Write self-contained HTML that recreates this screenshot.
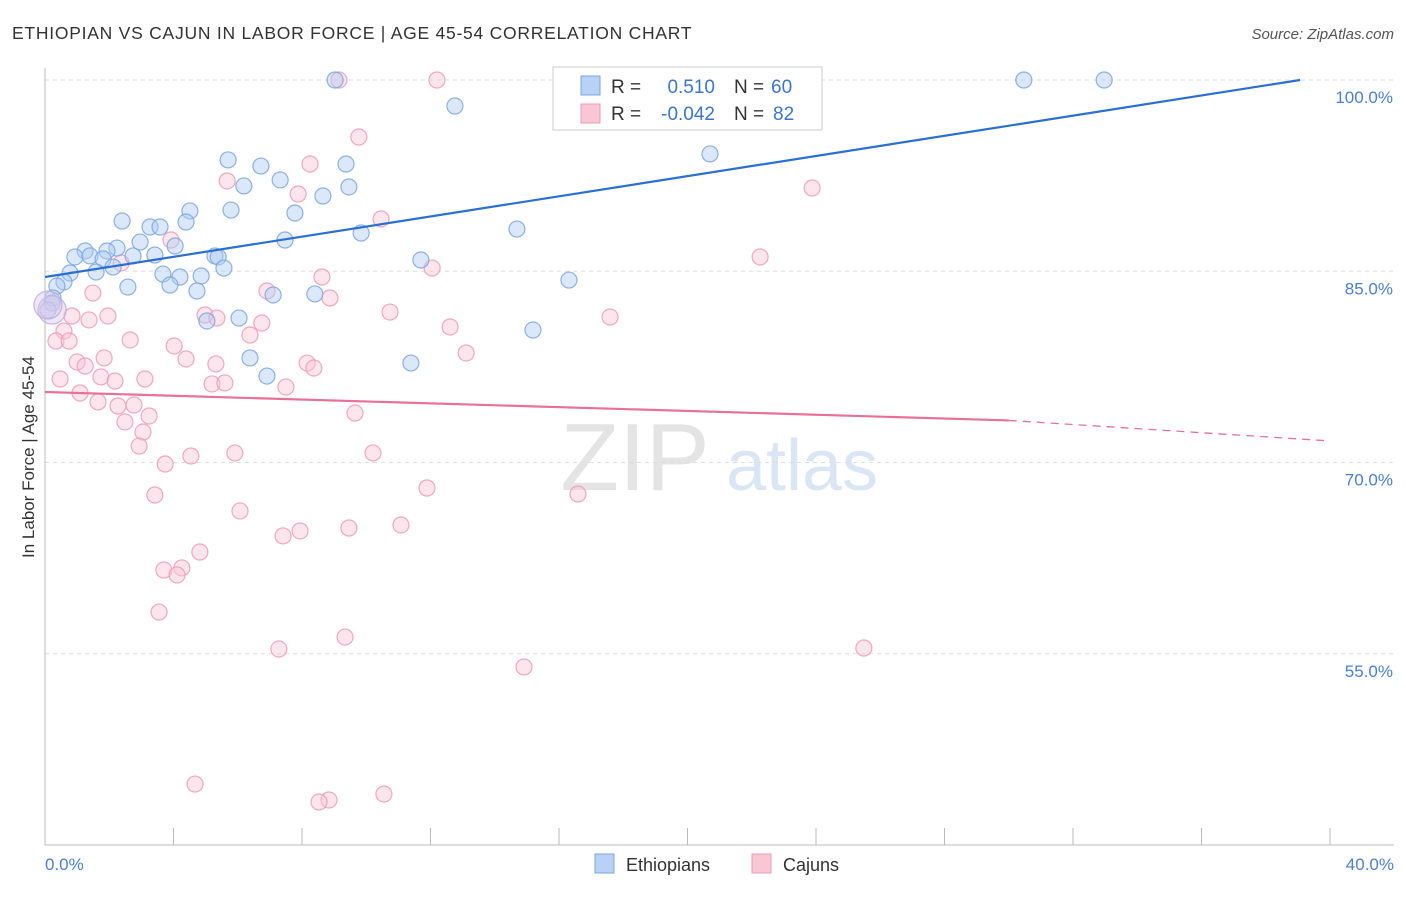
<!DOCTYPE html>
<html><head><meta charset="utf-8"><style>
body{margin:0;background:#fff;font-family:"Liberation Sans",sans-serif;}
svg text{font-family:"Liberation Sans",sans-serif;}
</style></head><body>
<svg id="chart" width="1406" height="892">
<text x="12" y="39" font-size="17.5" fill="#333" letter-spacing="0.75">ETHIOPIAN VS CAJUN IN LABOR FORCE | AGE 45-54 CORRELATION CHART</text>
<text x="1394" y="39" font-size="15" fill="#555" font-style="italic" text-anchor="end">Source: ZipAtlas.com</text>
<g>
<text x="635" y="490" font-size="96" fill="#e4e4e4" text-anchor="middle" font-family="Liberation Serif,serif">ZIP</text>
<text x="802" y="490" font-size="72" fill="#dbe6f5" text-anchor="middle">atlas</text>
</g>
<g id="grid"></g><g id="axes"></g><g id="marks"></g><g id="lines"></g>
<text transform="translate(34,457) rotate(-90)" font-size="17" fill="#333" text-anchor="middle">In Labor Force | Age 45-54</text>
<text x="45" y="870" font-size="17" fill="#4a7fd4">0.0%</text>
<text x="1394" y="870" font-size="17" fill="#4a7fd4" text-anchor="end">40.0%</text>
<g>
<rect x="553" y="67" width="269" height="63" fill="#fff" stroke="#ccc"/>
<rect x="581" y="76" width="19" height="19" fill="#b8d2f5" stroke="#7aa5e0"/>
<rect x="581" y="104" width="19" height="19" fill="#f9c6d6" stroke="#f09ab5"/>
<g font-size="19">
<text x="611" y="93" fill="#333">R =</text><text x="715" y="93" fill="#3a75d0" text-anchor="end">0.510</text>
<text x="734" y="93" fill="#333">N =</text><text x="771" y="93" fill="#3a75d0">60</text></g>
<g font-size="19">
<text x="611" y="120" fill="#333">R =</text><text x="715" y="120" fill="#3a75d0" text-anchor="end">-0.042</text>
<text x="734" y="120" fill="#333">N =</text><text x="773" y="120" fill="#3a75d0">82</text></g>
</g>
<g>
<rect x="595" y="854" width="19" height="19" fill="#b8d2f5" stroke="#7aa5e0"/>
<text x="626" y="871" font-size="18" fill="#333">Ethiopians</text>
<rect x="752" y="854" width="19" height="19" fill="#f9c6d6" stroke="#f09ab5"/>
<text x="783" y="871" font-size="18" fill="#333">Cajuns</text>
</g>
</svg>
<script>
const yTicks=[100,85,70,55];
const yTickLabels=["100.0%","85.0%","70.0%","55.0%"];
const xTicks=[0,4,8,12,16,20,24,28,32,36,40];
const ethX=[9.03,30.47,32.97,12.76,20.70,5.70,6.72,9.37,7.32,6.19,9.46,8.65,4.51,5.79,7.78,2.40,4.39,3.27,3.58,14.69,9.84,7.47,2.96,4.05,1.25,2.24,1.93,0.93,1.40,1.81,2.74,3.42,5.29,5.39,11.70,5.57,2.12,1.59,0.78,3.67,4.20,4.86,0.59,0.37,2.58,3.89,4.73,16.31,7.10,8.40,0.25,0.22,0.09,6.04,5.04,15.19,6.38,11.39,6.91];
const ethY=[100,100,100,97.96,94.20,93.73,93.25,93.41,92.16,91.69,91.61,90.90,89.73,89.80,89.57,88.94,88.86,88.47,88.47,88.31,88.00,87.45,87.29,86.98,86.59,86.82,86.59,86.12,86.20,85.96,86.20,86.27,86.20,86.12,85.88,85.25,85.33,84.94,84.86,84.78,84.55,84.63,84.16,83.84,83.76,83.92,83.45,84.31,83.14,83.22,82.90,82.51,81.96,81.33,81.10,80.39,78.20,77.80,76.78];
const cajX=[9.15,12.20,9.77,8.25,5.67,7.88,23.88,10.46,3.92,22.26,12.05,2.37,8.62,1.49,6.91,8.87,10.74,1.96,0.84,1.37,4.98,5.35,6.75,17.59,12.61,6.38,0.59,2.65,0.34,0.75,4.02,13.11,4.39,1.84,1.00,1.25,5.32,8.16,8.37,0.47,1.74,2.18,3.11,5.20,5.60,7.50,1.09,1.65,2.27,2.77,3.24,2.49,3.05,2.93,9.65,5.91,4.54,10.21,3.74,3.42,11.89,16.59,6.07,11.08,9.46,7.94,7.41,4.82,4.26,3.70,4.11,3.55,9.34,7.28,14.91,25.49,4.67,10.55,8.84,8.53];
const cajY=[100,100,95.53,93.41,92.08,91.06,91.53,89.10,87.45,86.12,85.25,85.65,84.55,83.29,83.45,82.90,81.80,81.49,81.49,81.18,81.57,81.33,80.94,81.41,80.63,80.00,80.31,79.61,79.53,79.53,79.14,78.59,78.12,78.20,77.88,77.57,77.73,77.80,77.41,76.55,76.71,76.39,76.55,76.16,76.24,75.92,75.45,74.75,74.43,74.51,73.65,73.18,72.39,71.29,73.88,70.75,70.51,70.75,69.88,67.45,68.00,67.53,66.20,65.10,64.86,64.63,64.24,62.98,61.73,61.57,61.18,58.27,56.31,55.37,53.96,55.45,44.78,44.00,43.53,43.37];
const bigX=[0.22,0.09];
const bigY=[81.96,82.35];
const ethTrend=[[0,84.55],[39.07,100]];
const cajTrend=[[0,75.53],[30,73.3],[40,71.69]];

const X=v=>45+v*32.125;
const Y=v=>80+(100-v)*12.75;
const NS="http://www.w3.org/2000/svg";
function mk(tag,parent,attrs){const e=document.createElementNS(NS,tag);for(const k in attrs)e.setAttribute(k,attrs[k]);parent.appendChild(e);return e;}
const grid=document.getElementById('grid'),axes=document.getElementById('axes'),marks=document.getElementById('marks'),lines=document.getElementById('lines');
yTicks.forEach((t,i)=>{
  const l=mk('line',grid,{x1:45,x2:1394,y1:Y(t),y2:Y(t),stroke:'#ddd','stroke-dasharray':'4,4'});
  
  
  const tx=mk('text',grid,{x:1393,y:Y(t)+23,'font-size':17,fill:'#4a7fd4','text-anchor':'end'});
  tx.textContent=yTickLabels[i];
  
  
});
const ya=mk('line',axes,{x1:45,x2:45,y1:68,y2:845,stroke:'#bbb'});


const xa=mk('line',axes,{x1:45,x2:1394,y1:845,y2:845,stroke:'#bbb'});


xTicks.forEach(t=>{
  const l=mk('line',axes,{x1:X(t),x2:X(t),y1:828,y2:845,stroke:'#bbb'});
  
  
});
function pts(xs,ys,fill,stroke,name,r){
  xs.forEach((x,i)=>{
    const c=mk('circle',marks,{cx:X(x),cy:Y(ys[i]),r:r,fill:fill,'fill-opacity':0.45,stroke:stroke,'stroke-opacity':0.85,'stroke-width':1.2});
    
    
  });
}
pts(cajX,cajY,'#f9c6d6','#f09ab5','cajun-point',8);
pts(ethX,ethY,'#aecbf5','#7aa5e0','ethiopian-point',8);
pts(bigX,bigY,'#d8c8ea','#c0a8d8','combined-point',14);
const e1=mk('line',lines,{x1:X(ethTrend[0][0]),y1:Y(ethTrend[0][1]),x2:X(ethTrend[1][0]),y2:Y(ethTrend[1][1]),stroke:'#2a6fd6','stroke-width':2.2});


const c1=mk('line',lines,{x1:X(cajTrend[0][0]),y1:Y(cajTrend[0][1]),x2:X(cajTrend[1][0]),y2:Y(cajTrend[1][1]),stroke:'#e8709a','stroke-width':2.2});


const c2=mk('line',lines,{x1:X(cajTrend[1][0]),y1:Y(cajTrend[1][1]),x2:X(cajTrend[2][0]),y2:Y(cajTrend[2][1]),stroke:'#e8709a','stroke-width':1.3,'stroke-dasharray':'8,6'});


</script>
</body></html>
